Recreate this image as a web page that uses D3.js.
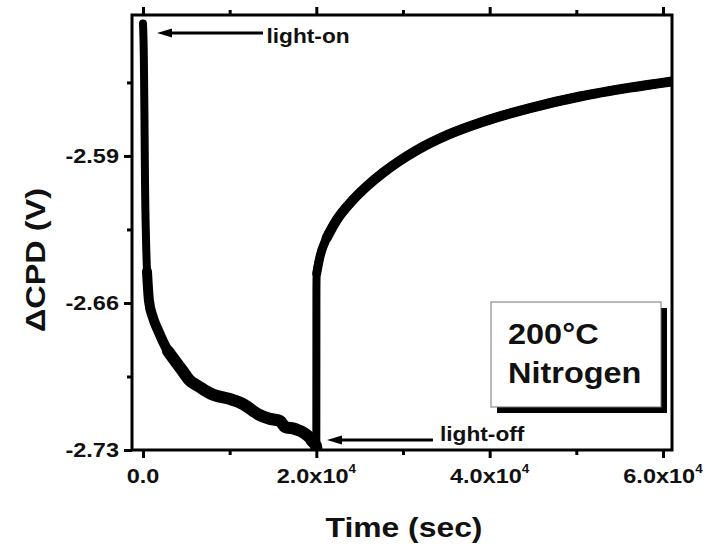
<!DOCTYPE html>
<html>
<head>
<meta charset="utf-8">
<script src="https://cdn.jsdelivr.net/npm/d3@7"></script>
<style>
body { margin: 0; background: #fff; }
text { font-family: "Liberation Sans", Arial, sans-serif; font-weight: bold; fill: #111; }
</style>
</head>
<body>
<div id="chart"></div>
<script>
// light on: decay of CPD (time in sec, CPD in V)
var timeOn = [0, 100, 170, 230, 350, 460, 690, 1150, 1730, 2885, 4500, 5420, 6350, 7730, 8310, 10040,
    11500, 13300, 14500, 15810, 16385, 17540, 19270, 19500, 19960, 20000]
var cpdOn = [-2.527, -2.544, -2.573, -2.602, -2.630, -2.645, -2.659, -2.667, -2.673, -2.683, -2.692, -2.697, -2.6995, -2.703, -2.704, -2.7057,
    -2.708, -2.713, -2.715, -2.7162, -2.719, -2.720, -2.7243, -2.7257, -2.728, -2.729]

// light off: recovery
var timeOff = [20000, 20010, 20040, 20420, 21200, 22350, 23880, 25810, 27690, 29650, 31615, 35420,
    39230, 44650, 50420, 56190, 61040]
var cpdOff = [-2.729, -2.654, -2.646, -2.638, -2.629, -2.6205, -2.6125, -2.6045, -2.598, -2.5922, -2.5872, -2.5795,
    -2.5737, -2.5672, -2.5617, -2.5575, -2.5545]

var xTicks = [0, 20000, 40000, 60000]
var xMinor = [10000, 30000, 50000]
var xLabels = ["0.0", "2.0x10", "4.0x10", "6.0x10"]
var xExp = ["", "4", "4", "4"]
var yTicks = [-2.73, -2.66, -2.59]
var yMinor = [-2.695, -2.625, -2.555]
var yLabels = ["-2.73", "-2.66", "-2.59"]

// annotations: arrow from tail to tip at a cpd level, label at (tx, ty)
var notes = [
    {label: "light-on", tail: 13850, tip: 1615, cpd: -2.5315, tx: 14250, ty: -2.5363},
    {label: "light-off", tail: 33460, tip: 21230, cpd: -2.7252, tx: 34270, ty: -2.7255}
]
var legendLines = ["200°C", "Nitrogen"]

var W = 708, H = 550
var frame = {left: 132, right: 672, top: 15, bottom: 450}

var svg = d3.select("#chart").append("svg").attr("width", W).attr("height", H)

var x = d3.scaleLinear().domain([-1270, 61040]).range([frame.left, frame.right])
var y = d3.scaleLinear().domain([-2.73, -2.5229]).range([frame.bottom, frame.top])

function stretchText(g, px, py, txt, size, anchor, sx, rot) {
    var tr = "translate(" + px + "," + py + ")" + (rot ? " rotate(" + rot + ")" : "") + " scale(" + sx + ",1)"
    return g.append("text").attr("transform", tr).attr("text-anchor", anchor)
        .style("font-size", size + "px").text(txt)
}

svg.append("clipPath").attr("id", "clip").append("rect")
    .attr("x", frame.left).attr("y", frame.top)
    .attr("width", frame.right - frame.left).attr("height", frame.bottom - frame.top)

/* axes: ticks only, frame drawn separately */
function styleAxis(g) {
    g.select(".domain").remove()
    g.selectAll("line").attr("stroke", "#000").attr("stroke-width", 3)
    g.selectAll("text").remove()
}
svg.append("g").attr("transform", "translate(0," + frame.bottom + ")")
    .call(d3.axisBottom(x).tickValues(xTicks).tickSize(8)).call(styleAxis)
svg.append("g").attr("transform", "translate(0," + frame.bottom + ")")
    .call(d3.axisBottom(x).tickValues(xMinor).tickSize(5)).call(styleAxis)
svg.append("g").attr("transform", "translate(0," + frame.top + ")")
    .call(d3.axisTop(x).tickValues(xTicks).tickSize(8)).call(styleAxis)
svg.append("g").attr("transform", "translate(0," + frame.top + ")")
    .call(d3.axisTop(x).tickValues(xMinor).tickSize(5)).call(styleAxis)
svg.append("g").attr("transform", "translate(" + frame.left + ",0)")
    .call(d3.axisLeft(y).tickValues(yTicks).tickSize(8)).call(styleAxis)
svg.append("g").attr("transform", "translate(" + frame.left + ",0)")
    .call(d3.axisLeft(y).tickValues(yMinor).tickSize(5)).call(styleAxis)

/* data curve */
var onData = timeOn.map(function(t, i){ return [t, cpdOn[i]] })
var offData = timeOff.map(function(t, i){ return [t, cpdOff[i]] })
var line = d3.line().curve(d3.curveMonotoneX)
    .x(function(d){ return x(d[0]) }).y(function(d){ return y(d[1]) })

function trace(data, width) {
    curves.append("path").attr("d", line(data)).attr("fill", "none").attr("stroke", "#000")
        .attr("stroke-width", width).attr("stroke-linejoin", "round").attr("stroke-linecap", "round")
}
var curves = svg.append("g").attr("clip-path", "url(#clip)")
trace(onData, 8)
trace(offData, 8)
// noisy parts of the trace look thicker
trace(onData.filter(function(d){ return d[0] >= 460 }), 10)
trace(onData.filter(function(d){ return d[0] >= 2885 }), 12)
trace(offData.filter(function(d){ return d[0] >= 20040 }), 9)
trace(offData.filter(function(d){ return d[0] >= 21200 }), 10)

/* frame */
svg.append("rect").attr("x", frame.left).attr("y", frame.top)
    .attr("width", frame.right - frame.left).attr("height", frame.bottom - frame.top)
    .attr("fill", "none").attr("stroke", "#000").attr("stroke-width", 3)

/* tick labels */
xTicks.forEach(function(t, i){
    var tx = stretchText(svg, x(t), 483, xLabels[i], 21, "middle", 1.12)
    if (xExp[i]) tx.append("tspan").attr("dy", -10).style("font-size", "12px").text(xExp[i])
})
yTicks.forEach(function(v, i){
    stretchText(svg, 119, y(v) + 7, yLabels[i], 21, "end", 1.12)
})

/* axis titles */
stretchText(svg, 404, 537, "Time (sec)", 27, "middle", 1.18)
stretchText(svg, 45, 260, "ΔCPD (V)", 27, "middle", 1.2, -90)

/* arrows */
var notesG = svg.selectAll(".note").data(notes).enter().append("g").attr("class", "note")
notesG.append("line")
    .attr("x1", function(d){ return x(d.tail) }).attr("x2", function(d){ return x(d.tip) + 10 })
    .attr("y1", function(d){ return y(d.cpd) }).attr("y2", function(d){ return y(d.cpd) })
    .attr("stroke", "#000").attr("stroke-width", 3)
notesG.append("path")
    .attr("d", function(d){
        var tx = x(d.tip), ty = y(d.cpd)
        return "M" + tx + "," + ty + "L" + (tx + 15) + "," + (ty - 4.5) + "L" + (tx + 15) + "," + (ty + 4.5) + "Z"
    })
    .attr("fill", "#000")
notes.forEach(function(d){
    stretchText(svg, x(d.tx), y(d.ty), d.label, 21, "start", 1.08)
})

/* legend box */
var lg = svg.append("g")
lg.append("rect").attr("x", 497).attr("y", 308).attr("width", 170).attr("height", 105).attr("fill", "#000")
lg.append("rect").attr("x", 491).attr("y", 302).attr("width", 170).attr("height", 105)
    .attr("fill", "#fff").attr("stroke", "#777").attr("stroke-width", 1)
legendLines.forEach(function(s, i){
    stretchText(lg, 508, 344 + i * 39, s, 29, "start", 1.12)
})
</script>
</body>
</html>
